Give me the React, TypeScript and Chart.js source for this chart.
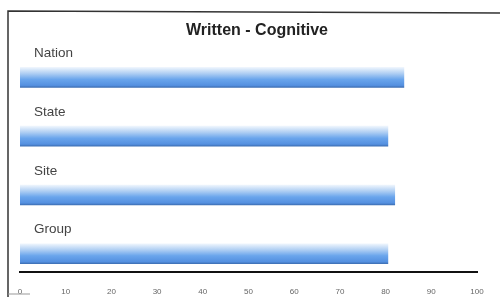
import React, { useEffect, useRef } from "react";
import { Chart, registerables } from "chart.js";

Chart.register(...registerables);

const title = "Written - Cognitive";
const categories = ["Nation", "State", "Site", "Group"];
const values = [84, 80.5, 82, 80.5];
const tickValues = [0, 10, 20, 30, 40, 50, 60, 70, 80, 90, 100];

const BAR_H = 20;

const decorPlugin = {
  id: "decor",
  afterDraw(chart: any) {
    const ctx = chart.ctx;
    const y = chart.scales.y;
    ctx.save();
    // frame
    ctx.strokeStyle = "#333";
    ctx.lineWidth = 1.5;
    ctx.beginPath();
    ctx.moveTo(8, 297);
    ctx.lineTo(8, 11);
    ctx.lineTo(500, 13);
    ctx.stroke();
    ctx.strokeStyle = "#999";
    ctx.lineWidth = 1;
    ctx.beginPath();
    ctx.moveTo(8, 294);
    ctx.lineTo(30, 294);
    ctx.stroke();
    // title
    ctx.fillStyle = "#222";
    ctx.font = "bold 16px Arial, 'Liberation Sans', sans-serif";
    ctx.textAlign = "center";
    ctx.textBaseline = "middle";
    ctx.fillText(title, 257, 31);
    // category labels
    ctx.font = "13.5px Arial, 'Liberation Sans', sans-serif";
    ctx.fillStyle = "#444";
    ctx.textAlign = "left";
    categories.forEach((c, i) => {
      const py = y.getPixelForValue(i);
      ctx.fillText(c, 34, py - 24);
    });
    ctx.restore();
  },
};

export default function App() {
  const ref = useRef<HTMLCanvasElement>(null);
  useEffect(() => {
    if (!ref.current) return;
    const chart = new Chart(ref.current, {
      type: "bar",
      data: {
        datasets: [
          {
            data: categories.map((c, i) => ({ x: values[i], y: i })),
            barThickness: BAR_H,
            borderWidth: 0,
            backgroundColor: (context: any) => {
              const ch = context.chart;
              const ys = ch.scales && ch.scales.y;
              if (!ch.chartArea || !ys || context.dataIndex === undefined) return "#5f9ee6";
              const cy = ys.getPixelForValue(context.dataIndex);
              if (!isFinite(cy)) return "#5f9ee6";
              const g = ch.ctx.createLinearGradient(0, cy - BAR_H / 2, 0, cy + BAR_H / 2);
              g.addColorStop(0, "#eef5fd");
              g.addColorStop(0.3, "#b0cff3");
              g.addColorStop(0.6, "#6aa5ec");
              g.addColorStop(0.9, "#5490e0");
              g.addColorStop(1, "#3d6fb4");
              return g;
            },
          },
        ],
      },
      options: {
        animation: false,
        responsive: false,
        indexAxis: "y",
        layout: { padding: { left: 20, right: 23, top: 48, bottom: 0 } },
        plugins: {
          legend: { display: false },
          tooltip: { enabled: false },
          title: { display: false },
        },
        scales: {
          y: {
            type: "linear",
            reverse: true,
            offset: false,
            min: -0.5,
            max: 3.31,
            display: false,
          },
          x: {
            type: "linear",
            min: 0,
            max: 100,
            afterFit: (axis: any) => {
              axis.height = 25;
            },
            afterBuildTicks: (axis: any) => {
              axis.ticks = tickValues.map((v) => ({ value: v }));
            },
            grid: { display: false },
            border: { display: true, color: "#111", width: 2 },
            ticks: {
              padding: 7,
              color: "#666",
              font: { size: 8, family: "Arial, 'Liberation Sans', sans-serif" },
            },
          },
        },
      },
      plugins: [decorPlugin],
    } as any);
    return () => chart.destroy();
  }, []);
  return (
    <div style={{ position: "absolute", left: 0, top: 0, width: 500, height: 297, background: "#fff" }}>
      <canvas ref={ref} width={500} height={297} style={{ display: "block" }} />
    </div>
  );
}
